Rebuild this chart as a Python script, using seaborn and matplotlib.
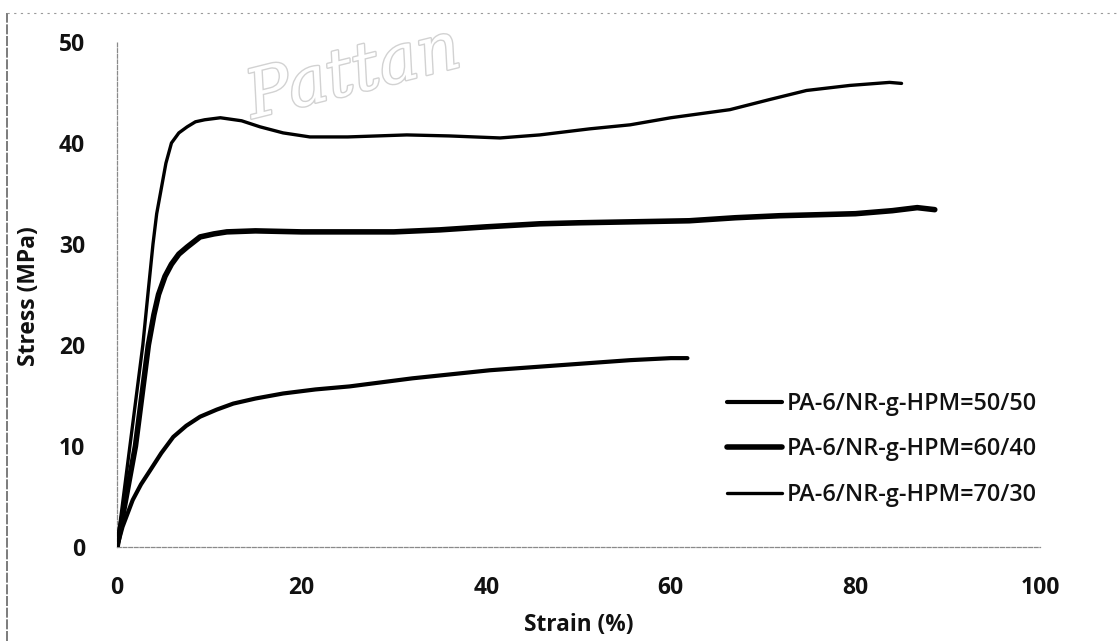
import numpy as np
import pandas as pd
import matplotlib
matplotlib.use("Agg")
import matplotlib.pyplot as plt
import matplotlib.patheffects as pe
from matplotlib.lines import Line2D
import seaborn as sns

# ---- data ----
labels = ["PA-6/NR-g-HPM=50/50", "PA-6/NR-g-HPM=60/40", "PA-6/NR-g-HPM=70/30"]

strain_5050 = [0, 0.6, 1.7, 2.6, 3.6, 4.8, 6.1, 7.5, 9.0, 10.8, 12.6, 15.0, 18.0, 21.5, 25.2,
               32.0, 40.4, 48.0, 55.6, 60.0, 61.8]
stress_5050 = [0, 2.0, 4.65, 6.2, 7.6, 9.3, 10.9, 12.0, 12.9, 13.6, 14.2, 14.7, 15.2, 15.6, 15.9,
               16.7, 17.5, 18.0, 18.5, 18.7, 18.7]

strain_6040 = [0, 1.0, 2.0, 2.7, 3.4, 4.0, 4.5, 5.2, 5.9, 6.7, 7.6, 9.0, 10.5, 11.9, 15.0, 20.0,
               25.0, 30.0, 35.0, 40.0, 45.8, 50.0, 56.0, 62.0, 67.0, 71.8, 76.0, 80.0, 84.0,
               86.7, 88.6]
stress_6040 = [0, 5.0, 10.0, 15.0, 20.0, 23.0, 25.0, 26.8, 28.0, 29.0, 29.7, 30.7, 31.0, 31.2,
               31.3, 31.2, 31.2, 31.2, 31.4, 31.7, 32.0, 32.1, 32.2, 32.3, 32.6, 32.8, 32.9,
               33.0, 33.3, 33.6, 33.4]

strain_7030 = [0, 0.7, 1.4, 2.1, 2.8, 3.4, 3.9, 4.3, 4.7, 5.3, 5.9, 6.7, 7.6, 8.5, 9.5, 11.2,
               13.5, 15.5, 18.0, 20.9, 25.0, 31.4, 36.0, 41.5, 45.8, 51.2, 55.6, 60.0, 66.4,
               70.7, 74.7, 79.4, 83.7, 85.0]
stress_7030 = [0, 5.0, 10.0, 15.0, 20.0, 25.5, 30.0, 33.0, 35.0, 38.0, 40.0, 41.0, 41.6, 42.1,
               42.3, 42.5, 42.2, 41.6, 41.0, 40.6, 40.6, 40.8, 40.7, 40.5, 40.8, 41.4, 41.8,
               42.5, 43.3, 44.3, 45.2, 45.7, 46.0, 45.9]

x_ticks = [0, 20, 40, 60, 80, 100]
y_ticks = [0, 10, 20, 30, 40, 50]

df = pd.concat([
    pd.DataFrame({"strain": strain_5050, "stress": stress_5050, "blend": labels[0]}),
    pd.DataFrame({"strain": strain_6040, "stress": stress_6040, "blend": labels[1]}),
    pd.DataFrame({"strain": strain_7030, "stress": stress_7030, "blend": labels[2]}),
], ignore_index=True)

sns.set_style("white")
plt.rcParams["font.family"] = ["Open Sans", "DejaVu Sans"]

W, H = 1119, 641
fig = plt.figure(figsize=(W / 100, H / 100), dpi=100)
ax = fig.add_axes([117 / W, 1 - 547 / H, (1040 - 117) / W, (547 - 42) / H])

widths = {labels[0]: 3.0, labels[1]: 4.0, labels[2]: 2.4}
for lab in labels:
    sub = df[df["blend"] == lab]
    sns.lineplot(data=sub, x="strain", y="stress", ax=ax, color="black",
                 linewidth=widths[lab], label=lab, sort=False, estimator=None,
                 solid_capstyle="round", solid_joinstyle="round", zorder=3)

ax.set_xlim(0, 100)
ax.set_ylim(0, 50)
ax.set_xticks(x_ticks)
ax.set_yticks(y_ticks)
ax.set_xticklabels([str(v) for v in x_ticks])
ax.set_yticklabels([str(v) for v in y_ticks])

for s in ["top", "right"]:
    ax.spines[s].set_visible(False)
for s in ["left", "bottom"]:
    ax.spines[s].set_color("#8a8a8a")
    ax.spines[s].set_linewidth(0.9)
    ax.spines[s].set_linestyle((0, (3, 1.5)))

ax.tick_params(axis="both", which="major", direction="out", length=4, width=0.8,
               color="#8a8a8a", labelsize=16.5, labelcolor="#111111")
ax.tick_params(axis="y", pad=19)
ax.tick_params(axis="x", pad=17)
for t in ax.get_xticklabels() + ax.get_yticklabels():
    t.set_fontweight("bold")

ax.set_xlabel("")
ax.set_ylabel("")
fig.text(579 / W, 1 - 625 / H, "Strain (%)", ha="center", va="center",
         fontsize=16.3, fontweight="bold", color="#111111")
fig.text(29 / W, 1 - 296 / H, "Stress (MPa)", ha="center", va="center", rotation=90,
         fontsize=16.5, fontweight="bold", color="#111111")

leg = ax.legend(loc="upper left", bbox_to_anchor=(727 / W, 1 - 392 / H),
                bbox_transform=fig.transFigure, frameon=False, fontsize=16.8,
                handlelength=2.35, handletextpad=0.2, labelspacing=0.92,
                borderpad=0, borderaxespad=0)
for t in leg.get_texts():
    t.set_fontweight("semibold")
    t.set_color("#111111")

# watermark (faint outlined text near the top)
fig.text(240 / W, 1 - 118 / H, "Pattan", fontsize=48, style="italic",
         family="DejaVu Serif", rotation=14, color="white", alpha=1.0, zorder=0,
         ha="left", va="baseline",
         path_effects=[pe.withStroke(linewidth=2.0, foreground="#d2d2d2")])

# scanned page borders
fig.add_artist(Line2D([7 / W, 7 / W], [0, 1 - 13 / H], color="#666666", lw=1.2,
                      linestyle=(0, (6, 1))))
fig.add_artist(Line2D([7 / W, 1], [1 - 13 / H, 1 - 13 / H], color="#9a9a9a", lw=0.8,
                      linestyle=(0, (2, 4))))

fig.savefig("out.png", dpi=100, facecolor="white")
